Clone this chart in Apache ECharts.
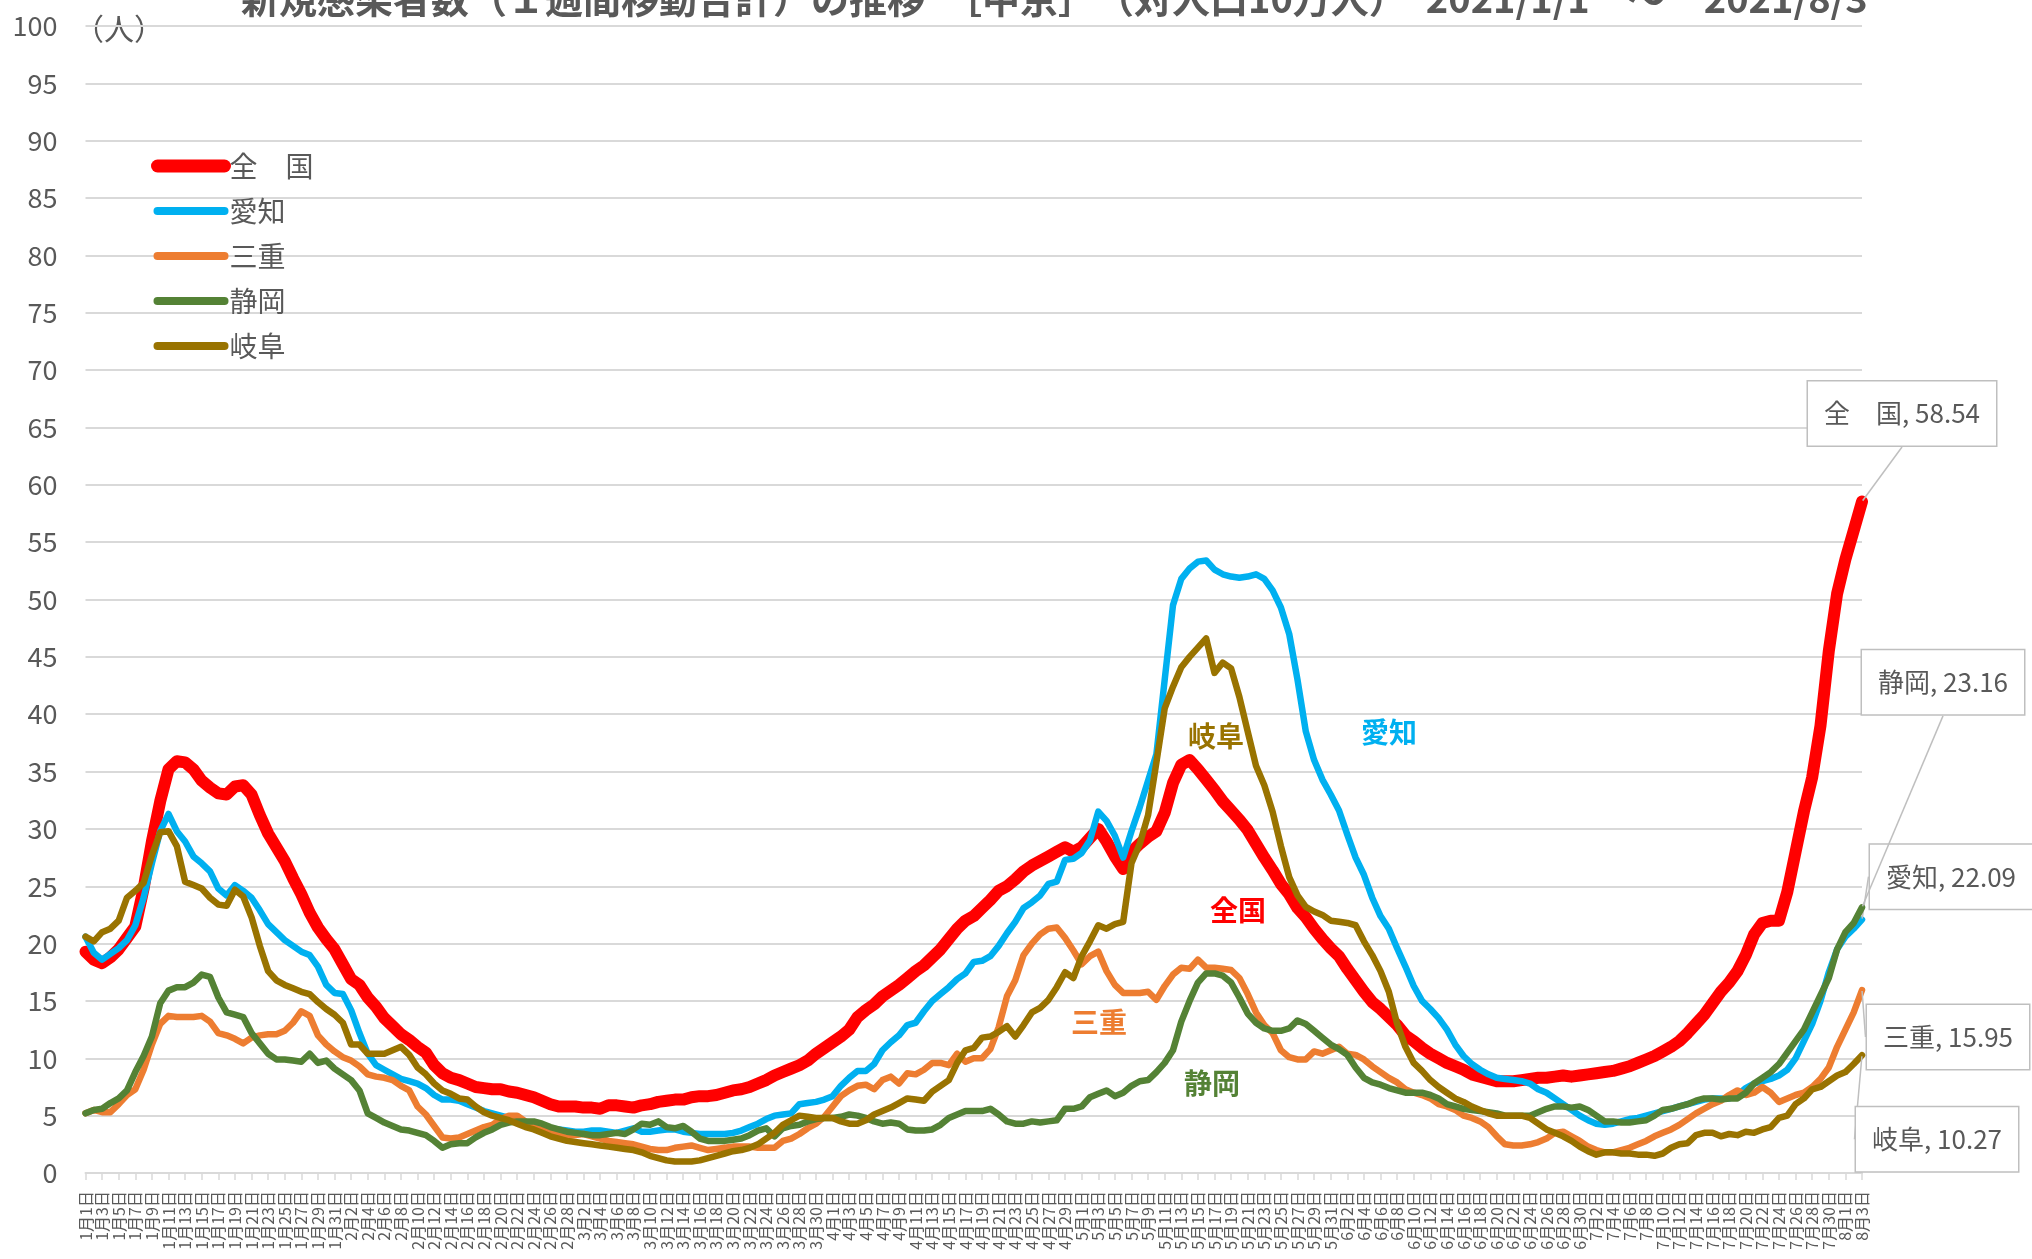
<!DOCTYPE html>
<html>
<head>
<meta charset="utf-8">
<script src="https://cdn.jsdelivr.net/npm/echarts@6/dist/echarts.min.js"></script>
<style>
html,body{margin:0;padding:0;background:#fff;}
#c{width:2032px;height:1259px;}
</style>
</head>
<body>
<div id="c"></div>
<script>
// ---- categories (2021/1/1 .. 2021/8/3) ----
const monthLengths = [31, 28, 31, 30, 31, 30, 31, 3];
const dates = [];
monthLengths.forEach((n, mi) => { for (let d = 1; d <= n; d++) dates.push((mi + 1) + '月' + d + '日'); });

const yTicks = [0, 100, 5]; // min, max, interval

const seriesNames = ['全　国', '愛知', '三重', '静岡', '岐阜'];

// ---- values (per 100k people, 7-day sum) ----
const zenkoku = [
19.3,18.6,18.3,18.8,19.5,20.5,21.5,24.8,28.9,32.4,35.2,35.9,35.8,35.2,34.2,33.6,33.1,33.0,33.7,33.8,
33.0,31.2,29.6,28.4,27.2,25.7,24.3,22.7,21.4,20.4,19.5,18.2,16.9,16.4,15.3,14.5,13.5,12.8,12.1,11.6,
11.0,10.5,9.4,8.7,8.3,8.1,7.8,7.5,7.4,7.3,7.3,7.1,7.0,6.8,6.6,6.3,6.0,5.8,5.8,5.8,
5.7,5.7,5.6,5.9,5.9,5.8,5.7,5.9,6.0,6.2,6.3,6.4,6.4,6.6,6.7,6.7,6.8,7.0,7.2,7.3,
7.5,7.8,8.1,8.5,8.8,9.1,9.4,9.8,10.4,10.9,11.4,11.9,12.5,13.6,14.2,14.7,15.4,15.9,16.4,17.0,
17.6,18.1,18.8,19.5,20.4,21.3,22.0,22.4,23.1,23.8,24.6,25.0,25.6,26.3,26.8,27.2,27.6,28.0,28.4,28.0,
28.4,29.2,30.0,28.9,27.6,26.5,28.0,28.7,29.3,29.8,31.4,34.0,35.6,36.0,35.2,34.3,33.4,32.4,31.6,30.8,
29.9,28.7,27.5,26.4,25.2,24.3,23.1,22.3,21.3,20.4,19.6,18.9,17.8,16.8,15.8,14.9,14.3,13.6,12.9,12.0,
11.5,10.9,10.4,10.0,9.6,9.3,9.0,8.6,8.4,8.2,8.0,8.0,8.0,8.1,8.2,8.3,8.3,8.4,8.5,8.4,
8.5,8.6,8.7,8.8,8.9,9.1,9.3,9.6,9.9,10.2,10.6,11.0,11.5,12.2,13.0,13.8,14.8,15.8,16.6,17.6,
19.0,20.8,21.8,22.0,22.0,24.5,28.0,31.5,34.5,39.0,45.5,50.5,53.5,56.0,58.54
];
const aichi = [
20.6,19.2,18.6,19.1,19.6,20.3,21.6,24.0,27.0,29.8,31.3,29.8,28.9,27.6,27.0,26.3,24.8,24.2,25.1,24.6,
24.0,22.9,21.7,21.0,20.3,19.8,19.3,19.0,18.0,16.4,15.7,15.6,14.2,12.2,10.4,9.4,9.0,8.6,8.2,8.0,
7.8,7.4,6.8,6.4,6.4,6.3,6.0,5.7,5.4,5.2,5.0,4.8,4.5,4.2,4.1,4.0,3.9,3.8,3.7,3.6,
3.6,3.7,3.7,3.6,3.5,3.7,3.9,3.6,3.6,3.7,3.8,3.8,3.6,3.5,3.4,3.4,3.4,3.4,3.5,3.7,
4.0,4.3,4.7,5.0,5.1,5.2,6.0,6.1,6.2,6.4,6.7,7.6,8.3,8.9,8.9,9.5,10.7,11.4,12.0,12.9,
13.1,14.1,15.0,15.6,16.2,16.9,17.4,18.4,18.5,18.9,19.8,20.9,21.9,23.1,23.6,24.2,25.2,25.4,27.3,27.4,
27.9,29.0,31.5,30.7,29.4,27.5,29.8,31.9,34.2,36.5,43.0,49.5,51.8,52.7,53.3,53.4,52.6,52.2,52.0,51.9,
52.0,52.2,51.8,50.8,49.3,47.0,43.0,38.5,36.0,34.3,33.0,31.6,29.5,27.5,26.0,24.0,22.4,21.3,19.6,18.0,
16.3,15.0,14.3,13.5,12.5,11.2,10.2,9.5,9.0,8.6,8.3,8.2,8.1,8.0,7.8,7.3,7.0,6.5,6.0,5.5,
5.0,4.6,4.3,4.2,4.3,4.5,4.7,4.8,5.0,5.2,5.4,5.6,5.8,6.0,6.2,6.4,6.5,6.5,6.5,6.8,
7.4,7.8,8.0,8.2,8.5,9.0,10.0,11.5,13.0,15.0,17.5,19.5,20.6,21.3,22.09
];
const mie = [
5.2,5.5,5.3,5.3,6.0,6.8,7.3,9.0,11.2,13.0,13.7,13.6,13.6,13.6,13.7,13.2,12.2,12.0,11.7,11.3,
11.8,12.0,12.1,12.1,12.4,13.1,14.1,13.7,12.0,11.2,10.6,10.1,9.8,9.3,8.6,8.4,8.3,8.1,7.6,7.2,
5.8,5.1,4.1,3.1,3.0,3.1,3.4,3.7,4.0,4.2,4.7,5.0,5.0,4.5,4.0,3.8,3.5,3.3,3.2,3.3,
3.4,3.2,3.0,2.8,2.7,2.6,2.5,2.3,2.1,2.0,2.0,2.2,2.3,2.4,2.2,2.0,2.1,2.2,2.3,2.3,
2.3,2.2,2.2,2.2,2.8,3.0,3.4,3.9,4.3,4.9,5.8,6.7,7.2,7.6,7.7,7.3,8.1,8.4,7.8,8.7,
8.6,9.0,9.6,9.6,9.4,10.4,9.7,10.0,10.0,10.8,12.7,15.4,16.8,19.0,20.0,20.8,21.3,21.4,20.5,19.4,
18.2,18.9,19.3,17.6,16.4,15.7,15.7,15.7,15.8,15.1,16.3,17.3,17.9,17.8,18.6,17.9,17.9,17.8,17.7,17.0,
15.6,14.0,12.9,12.2,10.7,10.1,9.9,9.9,10.6,10.4,10.7,11.0,10.4,10.3,9.9,9.3,8.8,8.3,7.9,7.3,
7.0,6.8,6.5,6.0,5.8,5.5,5.0,4.8,4.5,4.0,3.2,2.5,2.4,2.4,2.5,2.7,3.0,3.5,3.6,3.2,
2.8,2.3,2.0,1.8,1.8,2.0,2.2,2.5,2.8,3.2,3.5,3.8,4.2,4.7,5.2,5.6,6.0,6.3,6.8,7.2,
6.8,7.0,7.5,7.0,6.2,6.5,6.8,7.0,7.5,8.2,9.2,11.0,12.5,14.0,15.95
];
const shizuoka = [
5.2,5.5,5.6,6.1,6.5,7.2,8.8,10.2,11.9,14.8,15.9,16.2,16.2,16.6,17.3,17.1,15.3,14.0,13.8,13.6,
12.2,11.3,10.4,9.9,9.9,9.8,9.7,10.4,9.6,9.8,9.1,8.6,8.1,7.2,5.2,4.8,4.4,4.1,3.8,3.7,
3.5,3.3,2.8,2.2,2.5,2.6,2.6,3.1,3.5,3.8,4.2,4.4,4.5,4.5,4.5,4.3,4.0,3.8,3.6,3.5,
3.4,3.3,3.3,3.4,3.5,3.4,3.8,4.3,4.2,4.5,4.0,3.9,4.1,3.6,3.0,2.8,2.8,2.8,2.9,3.0,
3.3,3.7,3.9,3.2,3.9,4.1,4.2,4.5,4.7,4.8,4.8,4.9,5.1,5.0,4.8,4.5,4.3,4.4,4.3,3.8,
3.7,3.7,3.8,4.2,4.8,5.1,5.4,5.4,5.4,5.6,5.1,4.5,4.3,4.3,4.5,4.4,4.5,4.6,5.6,5.6,
5.8,6.6,6.9,7.2,6.7,7.0,7.6,8.0,8.1,8.8,9.6,10.7,13.2,15.0,16.6,17.4,17.4,17.2,16.6,15.3,
13.9,13.1,12.6,12.4,12.4,12.6,13.3,13.0,12.4,11.8,11.2,10.8,10.3,9.2,8.3,7.9,7.7,7.4,7.2,7.0,
7.0,7.0,6.8,6.5,6.0,5.8,5.6,5.5,5.4,5.3,5.2,5.0,5.0,5.0,5.0,5.3,5.6,5.8,5.8,5.7,
5.8,5.5,5.0,4.5,4.5,4.4,4.4,4.5,4.6,5.0,5.5,5.6,5.8,6.0,6.3,6.5,6.5,6.4,6.5,6.5,
7.0,7.8,8.3,8.8,9.5,10.5,11.5,12.5,14.0,15.5,17.0,19.5,21.0,21.8,23.16
];
const gifu = [
20.6,20.2,21.0,21.3,22.0,24.0,24.6,25.3,27.7,29.7,29.8,28.5,25.4,25.1,24.8,24.0,23.4,23.3,24.7,24.1,
22.3,19.8,17.6,16.8,16.4,16.1,15.8,15.6,14.9,14.3,13.8,13.1,11.2,11.2,10.4,10.4,10.4,10.7,11.0,10.3,
9.2,8.6,7.8,7.2,6.9,6.5,6.4,5.8,5.3,5.0,4.8,4.6,4.3,4.0,3.8,3.5,3.2,3.0,2.8,2.7,
2.6,2.5,2.4,2.3,2.2,2.1,2.0,1.8,1.5,1.3,1.1,1.0,1.0,1.0,1.1,1.3,1.5,1.7,1.9,2.0,
2.2,2.5,3.0,3.5,4.2,4.6,5.0,4.9,4.8,4.8,4.8,4.5,4.3,4.3,4.6,5.1,5.4,5.7,6.1,6.5,
6.4,6.3,7.1,7.6,8.1,9.6,10.7,10.9,11.8,11.9,12.3,12.8,11.9,12.9,14.0,14.4,15.1,16.2,17.5,17.0,
18.9,20.2,21.6,21.3,21.7,21.9,27.0,28.7,31.2,35.8,40.5,42.4,44.1,45.0,45.8,46.6,43.6,44.5,44.0,41.5,
38.5,35.5,33.8,31.5,28.5,25.8,24.2,23.2,22.8,22.5,22.0,21.9,21.8,21.6,20.2,19.0,17.6,15.8,13.0,11.0,
9.6,8.9,8.1,7.5,7.0,6.5,6.2,5.8,5.5,5.2,5.0,5.0,5.0,5.0,4.8,4.3,3.8,3.5,3.2,2.8,
2.3,1.9,1.6,1.8,1.8,1.7,1.7,1.6,1.6,1.5,1.7,2.2,2.5,2.6,3.3,3.5,3.5,3.2,3.4,3.3,
3.6,3.5,3.8,4.0,4.8,5.0,6.0,6.5,7.3,7.5,8.0,8.5,8.8,9.5,10.27
];

const colors = ['#FF0000', '#00B0F0', '#ED7D31', '#548235', '#997300'];
const widths = [12, 6.5, 6.5, 6.5, 6.5];
const legendWidths = [13, 8, 8, 8, 8];
const allValues = [zenkoku, aichi, mie, shizuoka, gifu];
// callout offsets (px) from the last point to the centre of its box
const calloutOffsets = [[40, -88], [89, -43], [86, 47], [81, -225], [75, 84]];

const FONT = '"Noto Sans CJK JP", "Noto Sans", sans-serif';
const TXT = '#595959';

const series = allValues.map((vals, si) => {
  const last = vals.length - 1;
  const data = vals.map((v, i) => i === last ? {
    value: v,
    symbol: 'circle',
    symbolSize: 2,
    label: {
      show: true,
      position: 'inside',
      formatter: (p) => p.seriesName + ', ' + p.value,
      fontFamily: FONT,
      fontSize: 26,
      color: TXT,
      backgroundColor: '#ffffff',
      borderColor: '#bfbfbf',
      borderWidth: 1.5,
      padding: [19, 16]
    }
  } : v);
  return {
    name: seriesNames[si],
    type: 'line',
    data: data,
    showSymbol: true,
    symbol: 'none',
    smooth: false,
    silent: true,
    z: 2 + si,
    itemStyle: { color: colors[si] },
    lineStyle: { color: colors[si], width: widths[si], cap: 'round', join: 'round' },
    labelLine: { show: true, smooth: false, lineStyle: { color: '#bfbfbf', width: 1.5 } },
    labelLayout: { dx: calloutOffsets[si][0], dy: calloutOffsets[si][1] }
  };
});

const chart = echarts.init(document.getElementById('c'), null, { renderer: 'canvas' });
chart.setOption({
  animation: false,
  backgroundColor: '#ffffff',
  textStyle: { fontFamily: FONT },
  title: {
    text: '新規感染者数（１週間移動合計）の推移　［中京］　（対人口10万人）　2021/1/1　～　2021/8/3',
    left: 236,
    top: -25,
    textStyle: { fontFamily: FONT, fontSize: 38, fontWeight: 'bold', color: TXT }
  },
  legend: {
    orient: 'vertical',
    left: 146,
    top: 147,
    itemWidth: 67,
    itemHeight: 14,
    itemGap: 17,
    data: seriesNames.map((n, i) => ({
      name: n,
      lineStyle: { width: legendWidths[i], cap: 'round' },
      itemStyle: { opacity: 0 }
    })),
    textStyle: { fontFamily: FONT, fontSize: 28, color: TXT }
  },
  grid: { left: 85.5, right: 170, top: 26, bottom: 86, containLabel: false },
  xAxis: {
    type: 'category',
    data: dates,
    boundaryGap: false,
    axisLine: { lineStyle: { color: '#d9d9d9', width: 2 } },
    axisTick: { show: true, interval: 1, length: 7, lineStyle: { color: '#d9d9d9', width: 1.5 } },
    axisLabel: { interval: 1, rotate: 90, fontSize: 16, color: TXT, margin: 18, fontFamily: FONT,
                 showMinLabel: true, showMaxLabel: true, hideOverlap: false },
    splitLine: { show: false }
  },
  yAxis: {
    type: 'value',
    min: yTicks[0],
    max: yTicks[1],
    interval: yTicks[2],
    axisLine: { show: false },
    axisTick: { show: false },
    axisLabel: { fontSize: 27, color: TXT, margin: 28, fontFamily: FONT },
    splitLine: { lineStyle: { color: '#d9d9d9', width: 2 } }
  },
  graphic: [
    { type: 'text', left: 74, top: 14, style: { text: '（人）', fontSize: 30, fill: TXT, fontFamily: FONT } },
    { type: 'text', x: 1216, y: 736, style: { text: '岐阜', fontSize: 28, fontWeight: 'bold', fill: colors[4], fontFamily: FONT, align: 'center', verticalAlign: 'middle' } },
    { type: 'text', x: 1389, y: 732, style: { text: '愛知', fontSize: 28, fontWeight: 'bold', fill: colors[1], fontFamily: FONT, align: 'center', verticalAlign: 'middle' } },
    { type: 'text', x: 1238, y: 910, style: { text: '全国', fontSize: 28, fontWeight: 'bold', fill: colors[0], fontFamily: FONT, align: 'center', verticalAlign: 'middle' } },
    { type: 'text', x: 1099, y: 1022, style: { text: '三重', fontSize: 28, fontWeight: 'bold', fill: colors[2], fontFamily: FONT, align: 'center', verticalAlign: 'middle' } },
    { type: 'text', x: 1212, y: 1083, style: { text: '静岡', fontSize: 28, fontWeight: 'bold', fill: colors[3], fontFamily: FONT, align: 'center', verticalAlign: 'middle' } }
  ],
  series: series
});
</script>
</body>
</html>
